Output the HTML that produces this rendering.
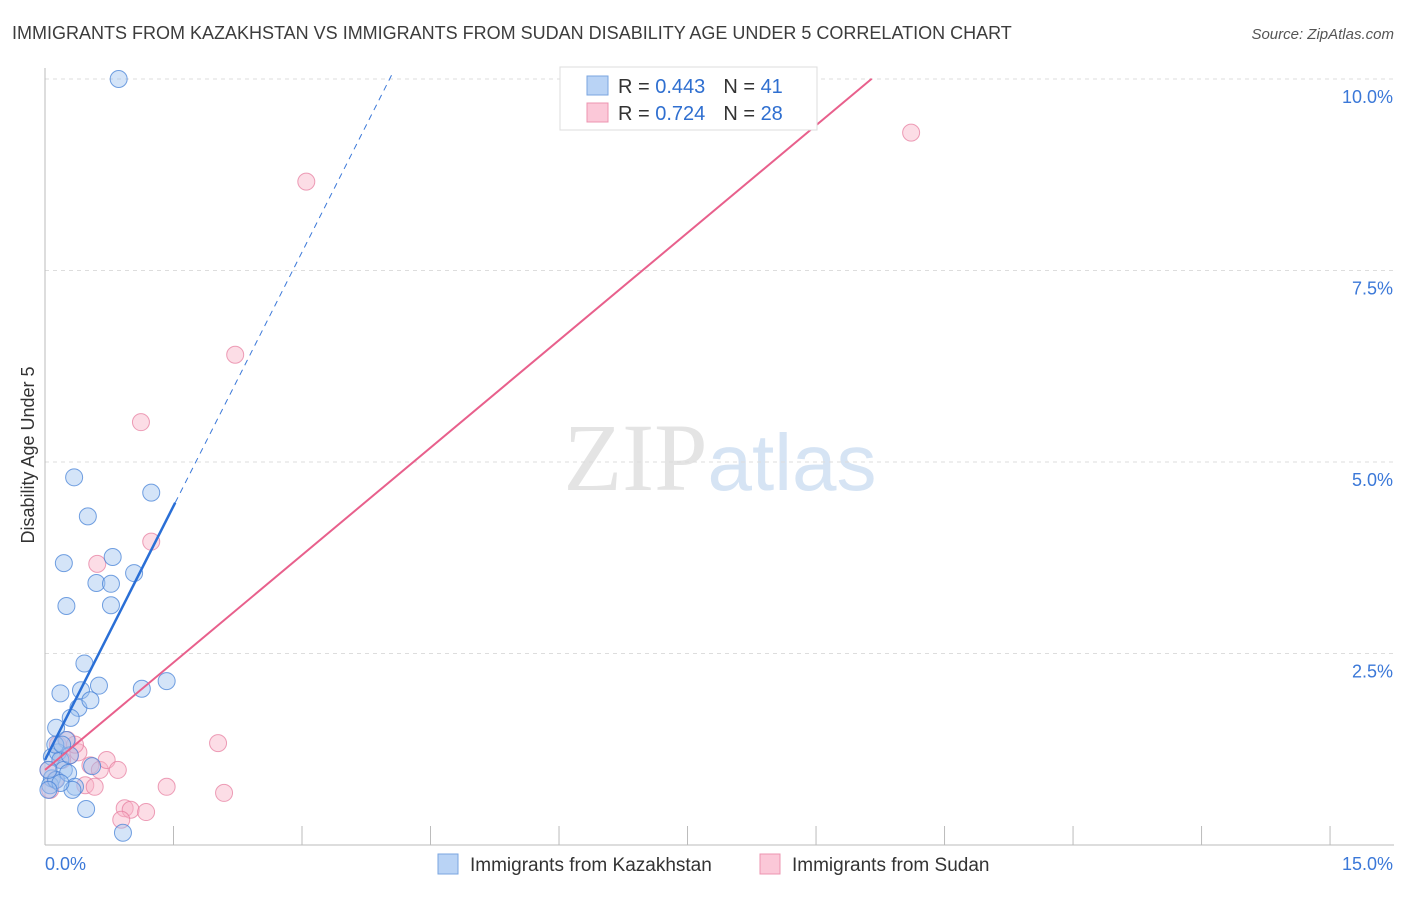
<!DOCTYPE html>
<html><head><meta charset="utf-8"><style>
body{margin:0;background:#fff;font-family:"Liberation Sans",sans-serif;}
</style></head><body>
<svg id="chart" width="1406" height="892" xmlns="http://www.w3.org/2000/svg" font-family="Liberation Sans, sans-serif">
<text x="12" y="39" font-size="18" fill="#3c3c3c">IMMIGRANTS FROM KAZAKHSTAN VS IMMIGRANTS FROM SUDAN DISABILITY AGE UNDER 5 CORRELATION CHART</text>
<text x="1394" y="39" font-size="15" fill="#555" text-anchor="end" font-style="italic">Source: ZipAtlas.com</text>
<text x="720" y="490" font-size="96" text-anchor="middle" fill="#e4e4e4"><tspan font-family="Liberation Serif, serif">ZIP</tspan><tspan fill="#d6e4f4" font-size="80">atlas</tspan></text>
<g id="grid"></g>
<g id="axes"></g>
<g id="pts"></g>
<g id="lines"></g>
<text transform="translate(34,455) rotate(-90)" font-size="18" fill="#333" text-anchor="middle">Disability Age Under 5</text>
<g>
<rect x="560" y="67" width="257" height="63" fill="#fff" stroke="#ddd"/>
<rect x="587" y="76" width="21" height="19" fill="#b9d3f5" stroke="#7aa6e0"/>
<rect x="587" y="103" width="21" height="19" fill="#fbc8d8" stroke="#ec94b0"/>
<text x="618" y="93" font-size="20" fill="#333">R = <tspan fill="#2f6fd0">0.443</tspan><tspan dx="18">N = </tspan><tspan fill="#2f6fd0">41</tspan></text>
<text x="618" y="120" font-size="20" fill="#333">R = <tspan fill="#2f6fd0">0.724</tspan><tspan dx="18">N = </tspan><tspan fill="#2f6fd0">28</tspan></text>
</g>
<g>
<rect x="438" y="854" width="20" height="20" fill="#b9d3f5" stroke="#7aa6e0"/>
<text x="470" y="871" font-size="19" fill="#333">Immigrants from Kazakhstan</text>
<rect x="760" y="854" width="20" height="20" fill="#fbc8d8" stroke="#ec94b0"/>
<text x="792" y="871" font-size="19" fill="#333">Immigrants from Sudan</text>
</g>
</svg>
<script>
const xTicks=[0,1.5,3,4.5,6,7.5,9,10.5,12,13.5,15];
const yTicks=[2.5,5,7.5,10];
const yTickLabels=["2.5%","5.0%","7.5%","10.0%"];
const kazX=[0.86,0.34,1.24,0.50,0.79,0.22,0.60,0.77,1.04,0.25,0.77,0.46,0.18,0.42,0.63,1.13,1.42,0.39,0.53,0.30,0.13,0.25,0.08,0.15,0.18,0.22,0.29,0.55,0.08,0.06,0.13,0.27,0.35,0.32,0.48,0.91,0.18,0.04,0.12,0.20,0.04];
const kazY=[10.0,4.80,4.60,4.29,3.76,3.68,3.42,3.41,3.55,3.12,3.13,2.37,1.98,2.02,2.08,2.04,2.14,1.79,1.89,1.66,1.53,1.37,1.15,1.21,1.11,0.98,1.17,1.03,0.87,0.78,0.85,0.94,0.76,0.72,0.47,0.16,0.81,0.98,1.31,1.31,0.72];
const sudX=[3.05,10.11,2.22,1.12,1.24,0.61,0.15,0.26,0.29,0.39,0.53,0.64,0.72,0.85,0.47,0.58,2.02,1.42,2.09,0.93,1.00,1.18,0.89,0.06,0.12,0.20,0.35,0.04];
const sudY=[8.66,9.30,6.40,5.52,3.96,3.67,1.31,1.37,1.17,1.21,1.04,0.98,1.11,0.98,0.78,0.76,1.33,0.76,0.68,0.48,0.46,0.43,0.33,0.72,0.85,1.11,1.31,0.98];
const kazFit=[1.11,2.21,1.52,4.0];
const sudFit=[0.98,0.935,9.65];
const X=v=>45+v*85.67, Y=v=>845-v*76.6;
const NS="http://www.w3.org/2000/svg";
function mk(p,t,a){const e=document.createElementNS(NS,t);for(const k in a)e.setAttribute(k,a[k]);p.appendChild(e);return e;}
const grid=document.getElementById('grid'),axes=document.getElementById('axes'),pts=document.getElementById('pts'),lines=document.getElementById('lines');
yTicks.forEach((v,i)=>{
 const l=mk(grid,'line',{x1:45,x2:1394,y1:Y(v),y2:Y(v),stroke:'#ddd','stroke-dasharray':'4,4'});
 
 
 const t=mk(axes,'text',{x:1393,y:Y(v)+24,'font-size':18,fill:'#3b78d8','text-anchor':'end'});t.textContent=yTickLabels[i];
 
 
});
const ax=mk(axes,'line',{x1:45,x2:45,y1:68,y2:845,stroke:'#bbb'});


const bx=mk(axes,'line',{x1:45,x2:1394,y1:845,y2:845,stroke:'#bbb'});


xTicks.forEach(v=>{if(v===0)return;const l=mk(axes,'line',{x1:X(v),x2:X(v),y1:826,y2:845,stroke:'#bbb'});
 
 });
const xl0=mk(axes,'text',{x:45,y:870,'font-size':18,fill:'#3b78d8'});xl0.textContent=xTicks[0].toFixed(1)+'%';


const xl1=mk(axes,'text',{x:1393,y:870,'font-size':18,fill:'#3b78d8','text-anchor':'end'});xl1.textContent=xTicks[xTicks.length-1].toFixed(1)+'%';


sudX.forEach((x,i)=>{const c=mk(pts,'circle',{cx:X(x),cy:Y(sudY[i]),r:8.5,fill:'rgba(248,180,200,0.45)',stroke:'rgba(230,120,155,0.7)','stroke-width':1});
 
 });
kazX.forEach((x,i)=>{const c=mk(pts,'circle',{cx:X(x),cy:Y(kazY[i]),r:8.5,fill:'rgba(160,195,240,0.45)',stroke:'rgba(70,130,215,0.75)','stroke-width':1});
 
 });
const [ka,kb,ke,kd]=kazFit;
const dx=(10.1-ka)/kb;
const l1=mk(lines,'line',{x1:X(ke),y1:Y(ka+kb*ke),x2:X(dx),y2:Y(ka+kb*dx),stroke:'#3b78d8','stroke-width':1,'stroke-dasharray':'6,5'});


const l2=mk(lines,'line',{x1:X(0),y1:Y(ka),x2:X(ke),y2:Y(ka+kb*ke),stroke:'#2a6fd6','stroke-width':2.5});


const [sa,sb,se]=sudFit;
const l3=mk(lines,'line',{x1:X(0),y1:Y(sa),x2:X(se),y2:Y(sa+sb*se),stroke:'#e8608c','stroke-width':2});


</script>
</body></html>
